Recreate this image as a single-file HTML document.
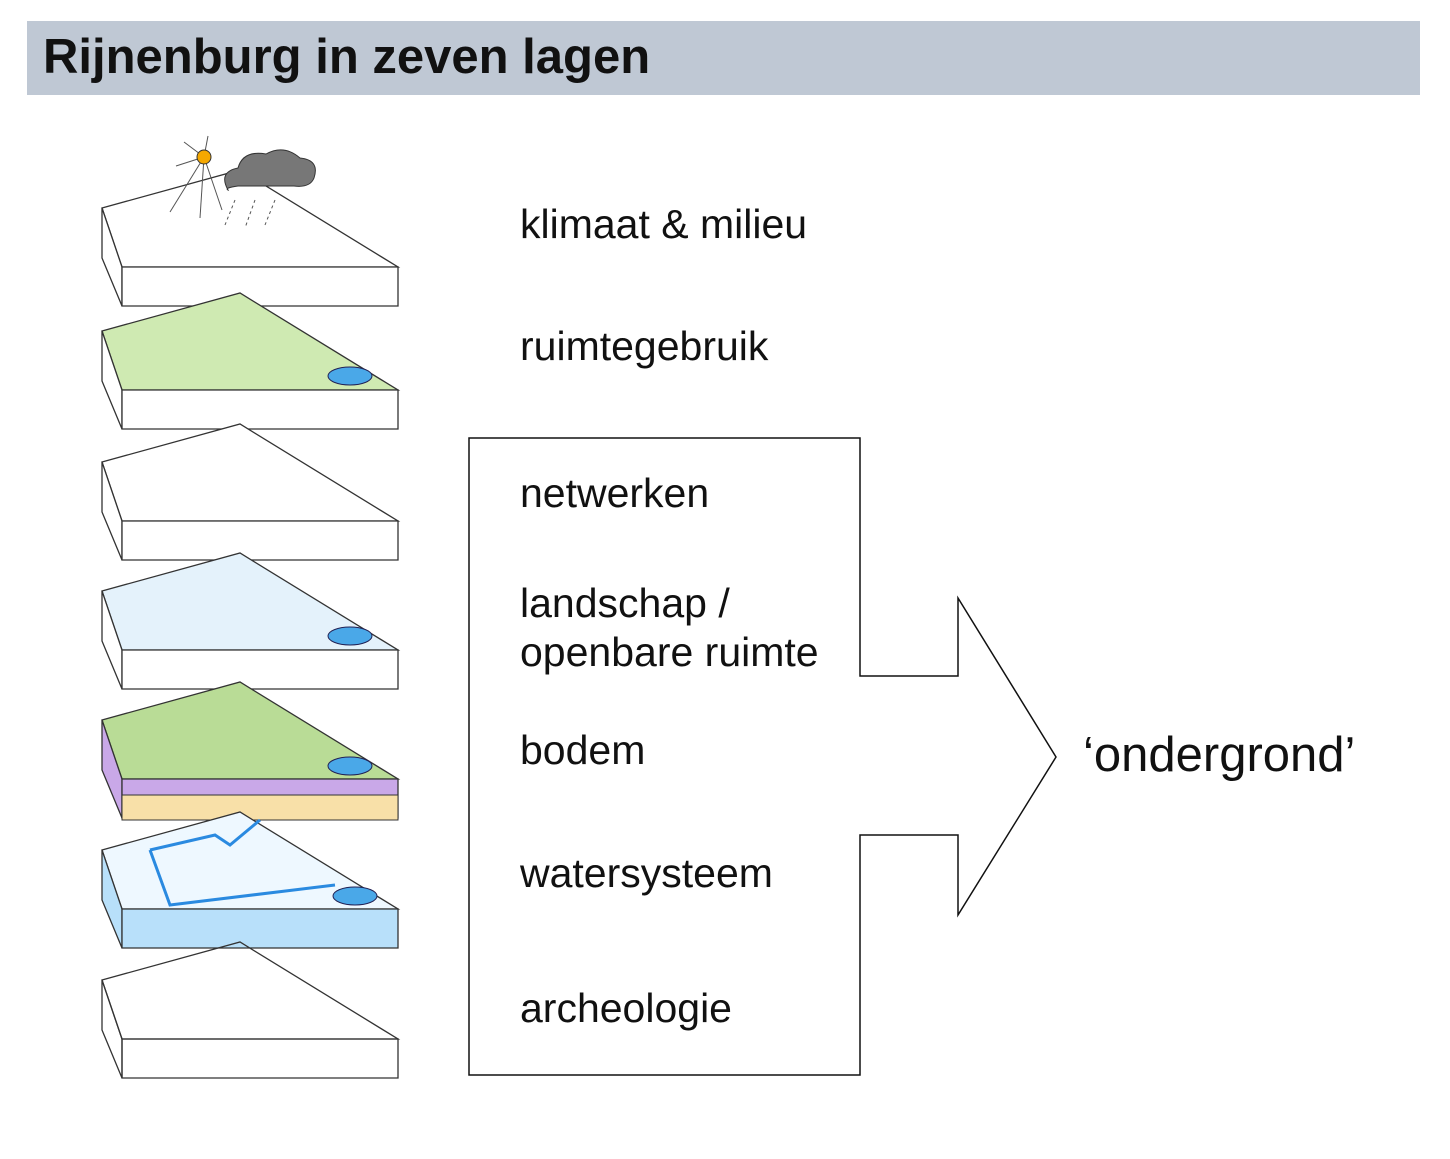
<!DOCTYPE html>
<html><head><meta charset="utf-8"><style>
body{margin:0;width:1450px;height:1159px;background:#fff;position:relative;font-family:"Liberation Sans",Arial,sans-serif;overflow:hidden}
.hdr{position:absolute;left:27px;top:21px;width:1393px;height:74px;background:#bfc8d4}
.hdr span{position:absolute;left:16px;top:8px;font-size:49px;font-weight:bold;color:#111}
.t{position:absolute;left:520px;font-size:41px;color:#111;white-space:nowrap}
</style></head><body>
<div class="hdr"><span>Rijnenburg in zeven lagen</span></div>
<svg width="1450" height="1159" style="position:absolute;left:0;top:0">
<defs>
<g id="slab">
<polygon points="102,208 240,170 398,267 122,267" fill="var(--top)" stroke="#333" stroke-width="1.3"/>
<polygon points="102,208 122,267 122,306 102,258" fill="var(--side)" stroke="#333" stroke-width="1.3"/>
<polygon points="122,267 398,267 398,306 122,306" fill="var(--side)" stroke="#333" stroke-width="1.3"/>
</g>
</defs>
<g style="--top:#fff;--side:#fff"><use href="#slab"/></g>
<g stroke="#555" stroke-width="1">
<line x1="204" y1="157" x2="170" y2="212"/><line x1="204" y1="157" x2="200" y2="218"/><line x1="204" y1="157" x2="222" y2="210"/>
<line x1="204" y1="157" x2="176" y2="166"/><line x1="204" y1="157" x2="184" y2="142"/><line x1="204" y1="157" x2="208" y2="136"/>
<line x1="235" y1="200" x2="225" y2="225" stroke-dasharray="3,3"/><line x1="255" y1="200" x2="245" y2="228" stroke-dasharray="3,3"/><line x1="275" y1="200" x2="265" y2="225" stroke-dasharray="3,3"/>
</g>
<circle cx="204" cy="157" r="7" fill="#f5a800" stroke="#333"/>
<path d="M228,190 q-10,-18 10,-22 q5,-18 28,-14 q18,-10 34,4 q20,2 14,20 q-4,10 -20,8 l-56,0 q-14,2 -10,4z" fill="#777" stroke="#333"/>
<g style="--top:#cfeab2;--side:#fff" transform="translate(0,123)"><use href="#slab"/></g>
<ellipse cx="350" cy="376" rx="22" ry="9" fill="#4aa8e8" stroke="#225"/>
<g style="--top:#fff;--side:#fff" transform="translate(0,254)"><use href="#slab"/></g>
<g style="--top:#e4f2fb;--side:#fff" transform="translate(0,383)"><use href="#slab"/></g>
<ellipse cx="350" cy="636" rx="22" ry="9" fill="#4aa8e8" stroke="#225"/>
<g style="--top:#b9dc96;--side:#c9a8e8" transform="translate(0,512)"><use href="#slab"/></g>
<rect x="122" y="795" width="276" height="25" fill="#f8e0a8" stroke="#333"/>
<ellipse cx="350" cy="766" rx="22" ry="9" fill="#4aa8e8" stroke="#225"/>
<g style="--top:#eef8ff;--side:#b8e0fa" transform="translate(0,642)"><use href="#slab"/></g>
<polyline points="150,850 215,835 230,845 260,820" fill="none" stroke="#2a8ae0" stroke-width="3"/>
<polyline points="150,850 170,905 335,885" fill="none" stroke="#2a8ae0" stroke-width="3"/>
<ellipse cx="355" cy="896" rx="22" ry="9" fill="#4aa8e8" stroke="#225"/>
<g style="--top:none;--side:none" transform="translate(0,772)"><use href="#slab"/></g>
<polygon points="469,438 860,438 860,676 958,676 958,598 1056,757 958,915 958,835 860,835 860,1075 469,1075" fill="none" stroke="#111" stroke-width="1.5"/>
</svg>
<div class="t" style="top:201px">klimaat &amp; milieu</div>
<div class="t" style="top:323px">ruimtegebruik</div>
<div class="t" style="top:470px">netwerken</div>
<div class="t" style="top:580px">landschap /</div>
<div class="t" style="top:629px">openbare ruimte</div>
<div class="t" style="top:727px">bodem</div>
<div class="t" style="top:850px">watersysteem</div>
<div class="t" style="top:985px">archeologie</div>
<div class="t" style="left:1083px;top:727px;font-size:49px">‘ondergrond’</div>
</body></html>
